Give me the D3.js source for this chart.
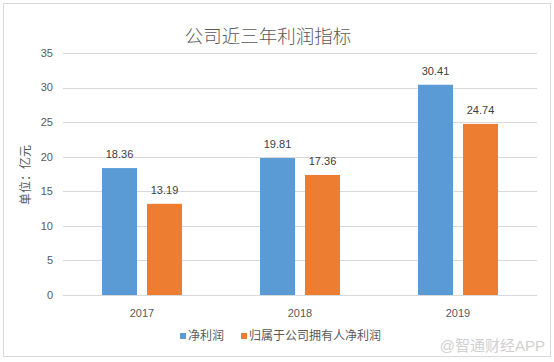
<!DOCTYPE html>
<html>
<head>
<meta charset="utf-8">
<script src="https://cdn.jsdelivr.net/npm/d3@7"></script>
<style>
  body { margin: 0; background: #fff; }
  text { font-family: "Liberation Sans", "Noto Sans CJK SC", sans-serif; }
</style>
</head>
<body>
<svg id="chart" width="554" height="362"></svg>
<script>
const years = ["2017", "2018", "2019"];
const netProfit = [18.36, 19.81, 30.41];
const attribProfit = [13.19, 17.36, 24.74];
const seriesNames = ["净利润", "归属于公司拥有人净利润"];
const yTicks = [0, 5, 10, 15, 20, 25, 30, 35];

const svg = d3.select("#chart");
const colors = ["#5b9bd5", "#ed7d31"];
const textColor = "#595959";

// outer frame
svg.append("rect")
  .attr("x", 3.5).attr("y", 3.5)
  .attr("width", 547).attr("height", 353)
  .attr("fill", "#fff")
  .attr("stroke", "#d9d9d9");

const plot = { left: 63, right: 537, top: 53, bottom: 295 };

const x = d3.scaleBand().domain(years).range([plot.left, plot.right]);
const y = d3.scaleLinear().domain([0, 35]).range([plot.bottom, plot.top]);

// gridlines
svg.append("g")
  .selectAll("line")
  .data(yTicks)
  .join("line")
  .attr("x1", plot.left).attr("x2", plot.right)
  .attr("y1", d => Math.round(y(d)) + 0.5)
  .attr("y2", d => Math.round(y(d)) + 0.5)
  .attr("stroke", "#d9d9d9");

// y tick labels
svg.append("g")
  .selectAll("text")
  .data(yTicks)
  .join("text")
  .attr("x", 53)
  .attr("y", d => y(d))
  .attr("dy", "0.35em")
  .attr("text-anchor", "end")
  .attr("fill", textColor)
  .style("font-size", "11px")
  .text(d => d);

// x labels
svg.append("g")
  .selectAll("text")
  .data(years)
  .join("text")
  .attr("x", d => x(d) + x.bandwidth() / 2)
  .attr("y", 313)
  .attr("dy", "0.35em")
  .attr("text-anchor", "middle")
  .attr("fill", textColor)
  .style("font-size", "11px")
  .text(d => d);

const barW = 35, gap = 10;
const series = [netProfit, attribProfit];
series.forEach((vals, s) => {
  const off = s === 0 ? -(barW + gap / 2) : gap / 2;
  const g = svg.append("g");
  g.selectAll("rect")
    .data(vals)
    .join("rect")
    .attr("x", (d, i) => x(years[i]) + x.bandwidth() / 2 + off)
    .attr("y", d => y(d))
    .attr("width", barW)
    .attr("height", d => y(0) - y(d))
    .attr("fill", colors[s]);
  g.selectAll("text")
    .data(vals)
    .join("text")
    .attr("x", (d, i) => x(years[i]) + x.bandwidth() / 2 + off + barW / 2)
    .attr("y", d => y(d) - 14)
    .attr("dy", "0.35em")
    .attr("text-anchor", "middle")
    .attr("fill", "#404040")
    .style("font-size", "11px")
    .text(d => d.toFixed(2));
});

// title
svg.append("text")
  .attr("x", 268).attr("y", 37)
  .attr("dy", "0.35em")
  .attr("text-anchor", "middle")
  .attr("fill", textColor)
  .style("font-size", "18.5px")
  .style("font-weight", 300)
  .text("公司近三年利润指标");

// y axis title
svg.append("text")
  .attr("transform", "translate(26,175) rotate(-90)")
  .attr("text-anchor", "middle")
  .attr("dy", "0.35em")
  .attr("fill", textColor)
  .style("font-size", "12px")
  .text("单位：亿元");

// legend
const legendX = [180, 241];
seriesNames.forEach((n, i) => {
  svg.append("rect")
    .attr("x", legendX[i]).attr("y", 333)
    .attr("width", 6).attr("height", 6)
    .attr("fill", colors[i]);
  svg.append("text")
    .attr("x", legendX[i] + 8).attr("y", 336)
    .attr("dy", "0.35em")
    .attr("fill", textColor)
    .style("font-size", "12px")
    .text(n);
});

// watermark
svg.append("text")
  .attr("x", 545).attr("y", 346)
  .attr("dy", "0.35em")
  .attr("text-anchor", "end")
  .attr("fill", "#d0d0d0")
  .style("font-size", "15px")
  .text("@智通财经APP");
</script>
</body>
</html>
